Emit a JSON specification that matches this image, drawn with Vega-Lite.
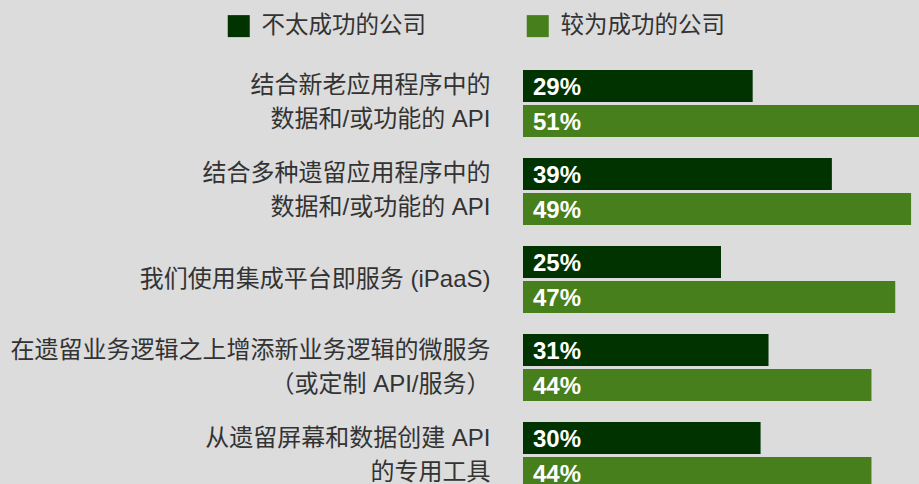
{
  "$schema": "https://vega.github.io/schema/vega-lite/v6.json",
  "autosize": {"type": "none"},
  "padding": {"left": 523, "top": 60, "right": 0, "bottom": 0},
  "width": 396,
  "height": 439,
  "background": "#dcdcdc",
  "config": {"view": {"stroke": null}, "font": "Liberation Sans, Noto Sans CJK SC"},
  "data": {"values": [
    {"cat": "结合新老应用程序中的\n数据和/或功能的 API", "series": "不太成功的公司", "value": 0.29},
    {"cat": "结合新老应用程序中的\n数据和/或功能的 API", "series": "较为成功的公司", "value": 0.51},
    {"cat": "结合多种遗留应用程序中的\n数据和/或功能的 API", "series": "不太成功的公司", "value": 0.39},
    {"cat": "结合多种遗留应用程序中的\n数据和/或功能的 API", "series": "较为成功的公司", "value": 0.49},
    {"cat": "我们使用集成平台即服务  (iPaaS)", "series": "不太成功的公司", "value": 0.25},
    {"cat": "我们使用集成平台即服务  (iPaaS)", "series": "较为成功的公司", "value": 0.47},
    {"cat": "在遗留业务逻辑之上增添新业务逻辑的微服务\n（或定制 API/服务）", "series": "不太成功的公司", "value": 0.31},
    {"cat": "在遗留业务逻辑之上增添新业务逻辑的微服务\n（或定制 API/服务）", "series": "较为成功的公司", "value": 0.44},
    {"cat": "从遗留屏幕和数据创建 API\n的专用工具", "series": "不太成功的公司", "value": 0.30},
    {"cat": "从遗留屏幕和数据创建 API\n的专用工具", "series": "较为成功的公司", "value": 0.44}
  ]},
  "encoding": {
    "y": {
      "field": "cat", "type": "nominal", "sort": null, "title": null,
      "scale": {"paddingInner": 0.2386, "paddingOuter": 0.1136},
      "axis": {
        "domain": false, "ticks": false, "labelPadding": 33,
        "labelFontSize": 24, "labelColor": "#333333", "labelLineHeight": 34,
        "labelLimit": 700, "labelFont": "Liberation Sans, Noto Sans CJK SC",
        "labelOffset": {"condition": {"test": "indexof(datum.value, '\\n') >= 0", "value": -17}, "value": 0},
        "labelExpr": "split(datum.value, '\\n')"
      }
    },
    "yOffset": {"field": "series", "type": "nominal", "sort": ["不太成功的公司", "较为成功的公司"], "scale": {"paddingInner": 0.0857, "paddingOuter": 0}}
  },
  "layer": [
    {
      "mark": {"type": "bar", "cornerRadius": 0},
      "encoding": {
        "x": {"field": "value", "type": "quantitative", "scale": {"domain": [0, 0.5], "nice": false, "zero": true}, "axis": null},
        "color": {
          "field": "series", "type": "nominal",
          "scale": {"domain": ["不太成功的公司", "较为成功的公司"], "range": ["#003300", "#487f1d"]},
          "legend": {
            "title": null, "orient": "none", "direction": "horizontal",
            "legendX": -296, "legendY": -46,
            "symbolType": "square", "symbolSize": 484, "symbolStrokeWidth": 0,
            "labelFontSize": 23.5, "labelColor": "#333333", "labelOffset": 11,
            "labelFont": "Noto Sans CJK SC", "columnPadding": 100, "labelLimit": 400
          }
        }
      }
    },
    {
      "mark": {"type": "text", "align": "left", "baseline": "middle", "dx": 10, "dy": 2, "color": "white", "fontWeight": "bold", "fontSize": 24, "font": "Liberation Sans"},
      "encoding": {
        "x": {"datum": 0, "type": "quantitative"},
        "text": {"field": "value", "type": "quantitative", "format": ".0%"}
      }
    }
  ]
}
